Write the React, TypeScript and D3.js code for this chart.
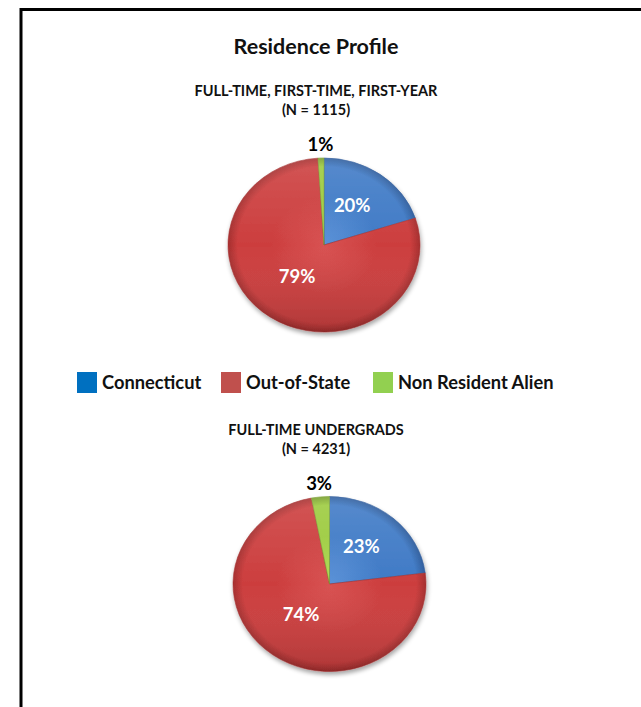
import React from "react";
import * as d3 from "d3";

const categories = ["Connecticut", "Out-of-State", "Non Resident Alien"];
const legendColors = ["#0070C0", "#C0504D", "#92D050"];
const sliceBase = ["#3f7ac6", "#cc3e3e", "#9ccb3e"];
const sliceDark = ["#2d5c9c", "#a52f2f", "#769d2a"];
const sliceLight = ["#5b92d8", "#d85252", "#b2dc58"];

const chartTitles = ["FULL-TIME, FIRST-TIME, FIRST-YEAR", "FULL-TIME UNDERGRADS"];
const chartCounts = ["(N = 1115)", "(N = 4231)"];
const freshmenValues = [20, 79, 1];
const undergradValues = [23, 74, 3];
const seriesList = [freshmenValues, undergradValues];

const W = 641;
const H = 707;
const font = "Lato, 'Open Sans', sans-serif";

function Pie({ values, cx, cy, rx, ry, id }: any) {
  const pie = d3.pie<number>().sort(null).value((d) => d);
  const arcs = pie(values);
  const arc = d3.arc<any>().innerRadius(0).outerRadius(rx);
  const sy = ry / rx;
  return (
    <g>
      <defs>
        {values.map((_: number, i: number) => (
          <radialGradient key={i} id={`${id}-g${i}`} cx="0" cy="0" r={rx} gradientUnits="userSpaceOnUse">
            <stop offset="0" stopColor={sliceLight[i]} />
            <stop offset="0.55" stopColor={sliceBase[i]} />
            <stop offset="0.9" stopColor={sliceBase[i]} />
            <stop offset="1" stopColor={sliceDark[i]} />
          </radialGradient>
        ))}
        <linearGradient id={`${id}-shade`} x1="0" y1="0" x2="0" y2="1">
          <stop offset="0" stopColor="#fff" stopOpacity="0.12" />
          <stop offset="0.5" stopColor="#fff" stopOpacity="0" />
          <stop offset="1" stopColor="#000" stopOpacity="0.15" />
        </linearGradient>
        <filter id={`${id}-sh`} x="-20%" y="-20%" width="140%" height="140%">
          <feGaussianBlur in="SourceAlpha" stdDeviation="2.5" />
          <feOffset dx="1" dy="3" />
          <feComponentTransfer>
            <feFuncA type="linear" slope="0.35" />
          </feComponentTransfer>
          <feMerge>
            <feMergeNode />
            <feMergeNode in="SourceGraphic" />
          </feMerge>
        </filter>
      </defs>
      <g transform={`translate(${cx},${cy}) scale(1,${sy})`} filter={`url(#${id}-sh)`}>
        {arcs.map((a, i) => (
          <path key={i} d={arc(a) || ""} fill={`url(#${id}-g${i})`} stroke={sliceDark[i]} strokeWidth={0.6} />
        ))}
        <ellipse cx={0} cy={0} rx={rx} ry={rx} fill={`url(#${id}-shade)`} pointerEvents="none" />
      </g>
      {arcs.map((a, i) => {
        const mid = (a.startAngle + a.endAngle) / 2;
        const share = (a.endAngle - a.startAngle) / (2 * Math.PI);
        const outside = share < 0.05;
        const k = outside ? 1 : 0.5;
        const extra = outside ? 14 : 0;
        const x = cx + Math.sin(mid) * (rx * k + extra);
        const y = cy - Math.cos(mid) * (ry * k + extra) - (outside ? 0 : 5);
        return (
          <text
            key={i}
            x={x}
            y={y}
            textAnchor="middle"
            dominantBaseline="central"
            fontFamily={font}
            fontWeight="bold"
            fontSize={18.5}
            fill={outside ? "#000" : "#fff"}
          >
            {`${values[i]}%`}
          </text>
        );
      })}
    </g>
  );
}

export default function App() {
  const legendX = [77, 221, 373];
  return (
    <svg width={W} height={H} style={{ position: "absolute", left: 0, top: 0 }}>
      <rect x={0} y={0} width={W} height={H} fill="#fff" />
      <path d={`M21,${H + 5} V9.5 H${W + 5}`} fill="none" stroke="#000" strokeWidth={3} />
      <text x={316} y={54} textAnchor="middle" fontFamily={font} fontWeight="bold" fontSize={21.5} fill="#111">
        Residence Profile
      </text>
      {[0, 1].map((c) => {
        const top = c === 0 ? 96 : 435;
        return (
          <g key={c}>
            <text x={316} y={top} textAnchor="middle" fontFamily={font} fontWeight="bold" fontSize={14.5} fill="#111">
              {chartTitles[c]}
            </text>
            <text x={316} y={top + 19} textAnchor="middle" fontFamily={font} fontWeight="bold" fontSize={14.5} fill="#111">
              {chartCounts[c]}
            </text>
          </g>
        );
      })}
      <Pie values={seriesList[0]} cx={324} cy={245} rx={96} ry={87} id="p1" />
      <Pie values={seriesList[1]} cx={329.5} cy={584} rx={96.5} ry={87.5} id="p2" />
      {categories.map((c, i) => (
        <g key={c}>
          <rect x={legendX[i]} y={372} width={20} height={21} fill={legendColors[i]} />
          <text x={legendX[i] + 25} y={389} fontFamily={font} fontWeight="bold" fontSize={18.3} fill="#111">
            {c}
          </text>
        </g>
      ))}
    </svg>
  );
}
